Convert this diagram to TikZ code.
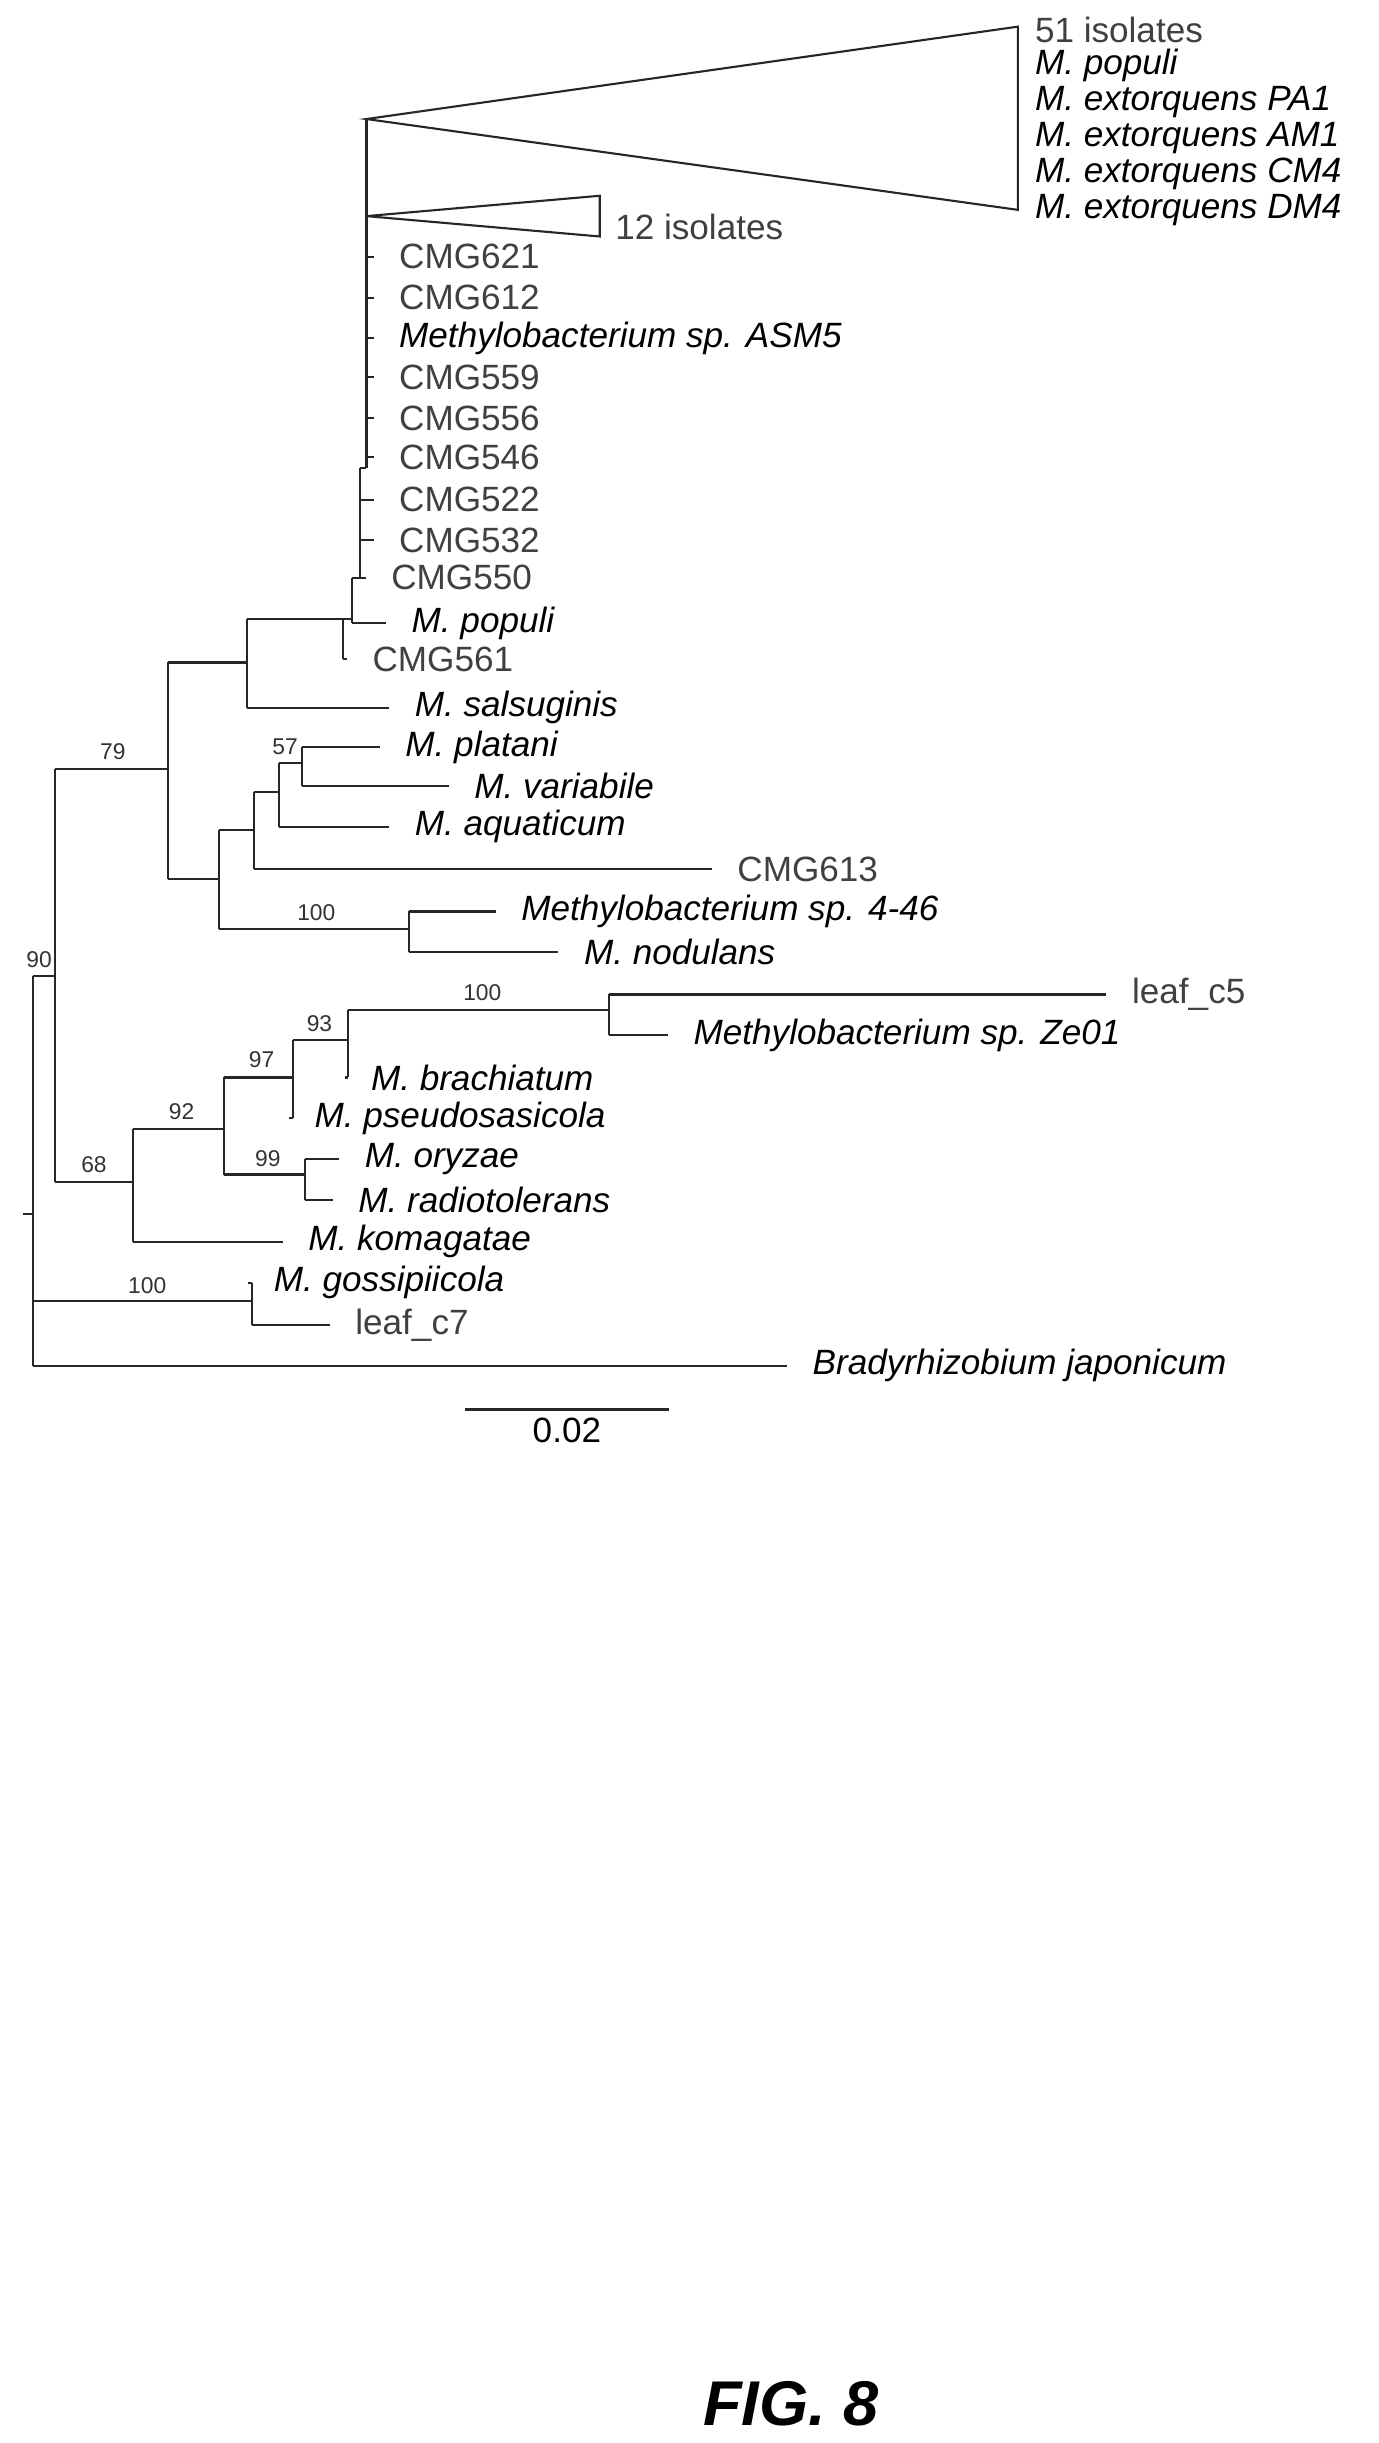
\documentclass[tikz,border=0pt]{standalone}
\usepackage{fontspec}
\setmainfont{Liberation Sans}
\usetikzlibrary{positioning,calc}

\begin{document}
\begin{tikzpicture}
	[
		x=0.01567cm, y=-0.01567cm,
		line width=0.6pt,
		S/.style = {anchor=west, inner sep=1pt, font=\fontsize{10}{12}\selectfont\itshape},
		C/.style = {anchor=west, inner sep=1pt, font=\fontsize{10}{12}\selectfont, text=black!75},
		B/.style = {anchor=south, inner sep=1pt, font=\fontsize{6.5}{7}\selectfont, text=black!80},
		br/.style = {draw=black!85},
	]
	\useasboundingbox (0,0) rectangle (880,1560);

	% inner nodes
	\coordinate (root) at ( 21,623);
	\coordinate (n90)  at ( 35,623);
	\coordinate (n79)  at (107,491);
	\coordinate (nA)   at (158,423);
	\coordinate (nB)   at (219,395);
	\coordinate (nC)   at (225,395);
	\coordinate (nD)   at (230,369);
	\coordinate (nE)   at (234,299);
	\coordinate (nF)   at (140,561);
	\coordinate (nG)   at (162,530);
	\coordinate (nH)   at (178,506);
	\coordinate (n57)  at (193,487);
	\coordinate (nI)   at (261,593);
	\coordinate (n68)  at ( 85,755);
	\coordinate (n92)  at (143,721);
	\coordinate (n99)  at (195,750);
	\coordinate (n97)  at (187,688);
	\coordinate (n93)  at (222,664);
	\coordinate (nJ)   at (389,645);
	\coordinate (nK)   at (161,831);

	% collapsed clades
	\coordinate (t51) at (234, 76);
	\coordinate (t12) at (234,138);
	\draw[br] (t51) -- (650,17) -- (650,134) -- cycle;
	\draw[br] (t12) -- (383,125) -- (383,151) -- cycle;
	\node[C] (i51) at (658, 19) {51 isolates};
	\node[S] (p1)  at (658, 42) {M. populi};
	\node[S] (pa1) at (658, 65) {M. extorquens PA1};
	\node[S] (am1) at (658, 88) {M. extorquens AM1};
	\node[S] (cm4) at (658,111) {M. extorquens CM4};
	\node[S] (dm4) at (658,134) {M. extorquens DM4};
	\node[C] (i12) at (390,145) {12 isolates};

	% tips
	\node[C] (c621) at (252,164) {CMG621};
	\node[C] (c612) at (252,190) {CMG612};
	\node[S] (asm5) at (252,216) {Methylobacterium sp. ASM5};
	\node[C] (c559) at (252,241) {CMG559};
	\node[C] (c556) at (252,267) {CMG556};
	\node[C] (c546) at (252,292) {CMG546};
	\node[C] (c522) at (252,319) {CMG522};
	\node[C] (c532) at (252,345) {CMG532};
	\node[C] (c550) at (247,369) {CMG550};
	\node[S] (pop)  at (260,398) {M. populi};
	\node[C] (c561) at (235,421) {CMG561};
	\node[S] (sals) at (262,452) {M. salsuginis};
	\node[S] (plat) at (256,477) {M. platani};
	\node[S] (vari) at (300,502) {M. variabile};
	\node[S] (aqua) at (262,528) {M. aquaticum};
	\node[C] (c613) at (468,555) {CMG613};
	\node[S] (m446) at (330,582) {Methylobacterium sp. 4-46};
	\node[S] (nodu) at (370,608) {M. nodulans};
	\node[C] (lc5)  at (720,635) {leaf\_c5};
	\node[S] (ze01) at (440,661) {Methylobacterium sp. Ze01};
	\node[S] (brac) at (234,688) {M. brachiatum};
	\node[S] (pseu) at (198,714) {M. pseudosasicola};
	\node[S] (oryz) at (230,740) {M. oryzae};
	\node[S] (radi) at (226,766) {M. radiotolerans};
	\node[S] (koma) at (194,793) {M. komagatae};
	\node[S] (goss) at (172,819) {M. gossipiicola};
	\node[C] (lc7)  at (224,846) {leaf\_c7};
	\node[S] (brad) at (516,872) {Bradyrhizobium japonicum};

	% vertical branches
	\draw[br] (root |- n90) -- (root |- brad);
	\draw[br] (n90 |- n79) -- (n90 |- n68);
	\draw[br] (n79 |- nA) -- (n79 |- nF);
	\draw[br] (nA |- nB) -- (nA |- sals);
	\draw[br] (nB) -- (nB |- c561);
	\draw[br] (nC |- nD) -- (nC |- pop);
	\draw[br] (nD |- nE) -- (nD);
	\draw[br] (t51) -- (nE);
	\draw[br] (nF |- nG) -- (nF |- nI);
	\draw[br] (nG |- nH) -- (nG |- c613);
	\draw[br] (nH |- n57) -- (nH |- aqua);
	\draw[br] (n57 |- plat) -- (n57 |- vari);
	\draw[br] (nI |- m446) -- (nI |- nodu);
	\draw[br] (n68 |- n92) -- (n68 |- koma);
	\draw[br] (n92 |- n97) -- (n92 |- n99);
	\draw[br] (n99 |- oryz) -- (n99 |- radi);
	\draw[br] (n97 |- n93) -- (n97 |- pseu);
	\draw[br] (n93 |- nJ) -- (n93 |- brac);
	\draw[br] (nJ |- lc5) -- (nJ |- ze01);
	\draw[br] (nK |- goss) -- (nK |- lc7);
	\draw[br] (15,775) -- (21,775);

	% horizontal branches
	\foreach \from/\to in {root/n90,n90/n79,n79/nA,nA/nB,nB/nC,nC/nD,nD/nE,
		nF/nG,nG/nH,nH/n57,n79/nF,nF/nI,n90/n68,n68/n92,n92/n97,n92/n99,
		n97/n93,n93/nJ,root/nK}
	\draw[br] (\from |- \to) -- (\to);
	\foreach \from/\to in {nE/c621,nE/c612,nE/asm5,nE/c559,nE/c556,
		nE/c546,nD/c522,nD/c532,nD/c550,nC/pop,nB/c561,nA/sals,
		n57/plat,n57/vari,nH/aqua,nG/c613,nI/m446,nI/nodu,
		nJ/lc5,nJ/ze01,n93/brac,n97/pseu,n99/oryz,n99/radi,
		n68/koma,nK/goss,nK/lc7,root/brad}
	\draw[br] (\from |- \to.west) -- ([xshift=-6pt]\to.west);

	% bootstrap values
	\node[B] (b79)  at ( 72,488) {79};
	\node[B] (b90)  at ( 25,621) {90};
	\node[B] (b57)  at (182,485) {57};
	\node[B] (b100a) at (202,591) {100};
	\node[B] (b100b) at (308,642) {100};
	\node[B] (b93)  at (204,662) {93};
	\node[B] (b97)  at (167,685) {97};
	\node[B] (b92)  at (116,718) {92};
	\node[B] (b99)  at (171,748) {99};
	\node[B] (b68)  at ( 60,752) {68};
	\node[B] (b100c) at ( 94,829) {100};

	% scale bar
	\coordinate (sb1) at (297,900);
	\coordinate (sb2) at (427,900);
	\draw[br] (sb1) -- (sb2);
	\node[anchor=north, inner sep=2pt, font=\fontsize{10}{12}\selectfont] (sbl) at ($(sb1)!0.5!(sb2)$) {0.02};

	\node[font=\fontsize{18}{20}\selectfont\bfseries\itshape] (fig) at (505,1535) {FIG. 8};
\end{tikzpicture}
\end{document}
